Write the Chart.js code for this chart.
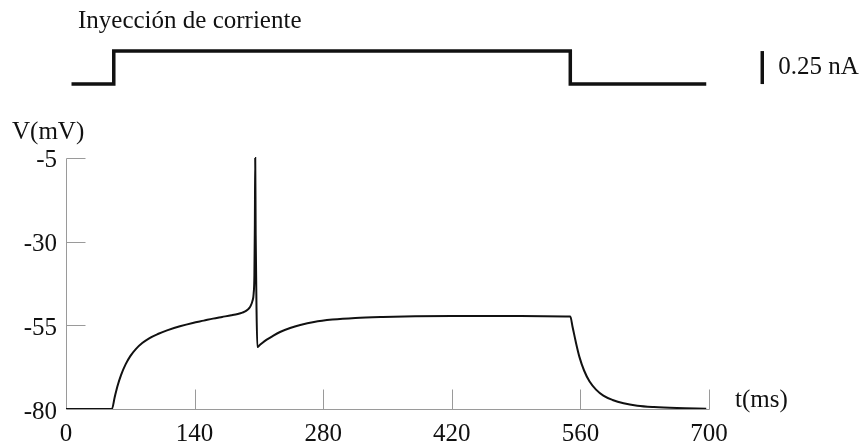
<!DOCTYPE html>
<html>
<head>
<meta charset="utf-8">
<script src="https://cdn.jsdelivr.net/npm/chart.js@4.4.1/dist/chart.umd.min.js"></script>
<style>
    html, body { margin: 0; padding: 0; background: #fff; }
</style>
</head>
<body>
<canvas id="chart" width="863" height="446"></canvas>
<script>
(function () {
    // membrane potential trace
    var timeMs = [0, 50, 53, 56, 60, 65, 70, 76, 83, 91, 100, 110, 124, 138, 150, 160, 170, 180, 187, 192,
        196, 199, 201, 203, 204.3, 205.1, 205.6, 206, 206.5, 207.4, 208.3, 211, 214, 218.5, 225, 233,
        244, 255, 270, 290, 315, 345, 380, 420, 470, 520, 549, 551.5, 555, 559, 564, 570, 577, 585, 595,
        607, 622, 640, 665, 697];
    var voltageMv = [-80, -80, -76.5, -73.2, -69.8, -66.6, -64.2, -62.1, -60.3, -58.8, -57.6, -56.5, -55.3, -54.3, -53.6, -53.0, -52.5, -52.0, -51.6, -51.2,
        -50.7, -50.0, -49.2, -47.7, -45.5, -40, -25, -5, -28, -50, -61.5, -60.9, -60.2, -59.3, -58.2, -57,
        -55.8, -54.9, -54, -53.3, -52.8, -52.5, -52.3, -52.2, -52.2, -52.3, -52.4, -55.5, -60, -64.5, -68.5, -71.8, -74.2, -76, -77.3,
        -78.3, -79, -79.4, -79.7, -79.9];

    // current injection step (nA) and its scale bar
    var stimTimeMs = [6, 52, 52, 549, 549, 697];
    var stimNa = [0, 0, 0.25, 0.25, 0, 0];
    var barTimeMs = [758, 758];
    var barNa = [0, 0.25];

    var xTicks = [0, 140, 280, 420, 560, 700];
    var yTicks = [-80, -55, -30, -5];

    var FONT = '"Liberation Serif", "Times New Roman", serif';
    var INK = '#111';
    var AXIS = '#9a9a9a';

    function points(xs, ys) {
        return xs.map(function (x, i) { return { x: x, y: ys[i] }; });
    }

    var axesPlugin = {
        id: 'axesAndLabels',
        beforeDatasetsDraw: function (chart) {
            var ctx = chart.ctx;
            var x = chart.scales.x, y = chart.scales.y;
            var x0 = Math.round(x.getPixelForValue(xTicks[0])) + 0.5;
            var x1 = Math.round(x.getPixelForValue(xTicks[xTicks.length - 1])) + 0.5;
            var yb = Math.round(y.getPixelForValue(yTicks[0])) + 0.5;
            var yt = Math.round(y.getPixelForValue(yTicks[yTicks.length - 1])) + 0.5;

            ctx.save();
            ctx.strokeStyle = AXIS;
            ctx.lineWidth = 1;
            ctx.beginPath();
            ctx.moveTo(x0, yt);
            ctx.lineTo(x0, yb);
            ctx.lineTo(x1, yb);
            yTicks.slice(1).forEach(function (v) {
                var p = Math.round(y.getPixelForValue(v)) + 0.5;
                ctx.moveTo(x0, p);
                ctx.lineTo(x0 + 19, p);
            });
            xTicks.slice(1).forEach(function (v) {
                var p = Math.round(x.getPixelForValue(v)) + 0.5;
                ctx.moveTo(p, yb);
                ctx.lineTo(p, yb - 20);
            });
            ctx.stroke();
            ctx.restore();
        },
        afterDraw: function (chart) {
            var ctx = chart.ctx;
            var area = chart.chartArea;
            var x = chart.scales.x, yI = chart.scales.yI;

            ctx.save();
            ctx.fillStyle = INK;
            ctx.font = '25px ' + FONT;
            ctx.textAlign = 'left';
            ctx.textBaseline = 'alphabetic';
            ctx.fillText('Inyección de corriente', area.left + 12, 28);
            ctx.fillText('V(mV)', 12, chart.scales.y.getPixelForValue(yTicks[yTicks.length - 1]) - 19);
            ctx.fillText('t(ms)', area.right + 26, area.bottom - 2);

            ctx.textBaseline = 'middle';
            var barMid = (yI.getPixelForValue(barNa[0]) + yI.getPixelForValue(barNa[1])) / 2;
            ctx.fillText('0.25 nA', x.getPixelForValue(barTimeMs[0]) + 16, barMid);
            ctx.restore();
        }
    };

    new Chart(document.getElementById('chart'), {
        type: 'line',
        data: {
            datasets: [
                {
                    label: 'V',
                    data: points(timeMs, voltageMv),
                    yAxisID: 'y',
                    borderColor: INK,
                    borderWidth: 2,
                    pointRadius: 0,
                    cubicInterpolationMode: 'monotone',
                    fill: false,
                },
                {
                    label: 'I',
                    data: points(stimTimeMs, stimNa),
                    yAxisID: 'yI',
                    borderColor: INK,
                    borderWidth: 3.5,
                    pointRadius: 0,
                    tension: 0,
                    fill: false,
                },
                {
                    label: 'scale',
                    data: points(barTimeMs, barNa),
                    yAxisID: 'yI',
                    borderColor: INK,
                    borderWidth: 3.5,
                    pointRadius: 0,
                    clip: false,
                    fill: false,
                },
            ],
        },
        options: {
            responsive: false,
            animation: false,
            events: [],
            layout: { padding: { left: 0, right: 154, top: 24, bottom: 0 } },
            plugins: {
                legend: { display: false },
                title: { display: false },
                tooltip: { enabled: false },
            },
            scales: {
                x: {
                    type: 'linear',
                    min: 0,
                    max: 700,
                    grid: { display: false, drawTicks: false },
                    border: { display: false },
                    afterBuildTicks: function (s) {
                        s.ticks = xTicks.map(function (v) { return { value: v }; });
                    },
                    afterFit: function (s) { s.height = 37; },
                    ticks: {
                        color: INK,
                        padding: 10,
                        maxRotation: 0,
                        font: { family: FONT, size: 25 },
                    },
                },
                y: {
                    type: 'linear',
                    position: 'left',
                    min: -80,
                    max: 35,
                    grid: { display: false, drawTicks: false },
                    border: { display: false },
                    afterBuildTicks: function (s) {
                        s.ticks = yTicks.map(function (v) { return { value: v }; });
                    },
                    afterFit: function (s) { s.width = 66; },
                    ticks: {
                        color: INK,
                        padding: 9,
                        labelOffset: 3,
                        font: { family: FONT, size: 25 },
                    },
                },
                yI: {
                    type: 'linear',
                    display: false,
                    min: -2.462,
                    max: 0.455,
                },
            },
        },
        plugins: [axesPlugin],
    });
})();
</script>
</body>
</html>
